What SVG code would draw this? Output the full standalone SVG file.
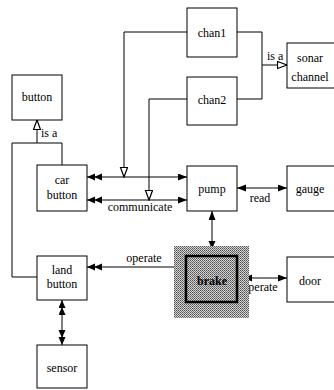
<svg xmlns="http://www.w3.org/2000/svg" width="334" height="390" viewBox="0 0 334 390">
<style>
.box{fill:#fff;stroke:#000;stroke-width:1}
.ln{fill:none;stroke:#000;stroke-width:1}
text{font-family:"Liberation Serif","Times New Roman",serif;font-size:12px;fill:#000;text-anchor:middle}
</style>
<defs>
<marker id="sa" markerUnits="userSpaceOnUse" markerWidth="10" markerHeight="8" refX="9" refY="3.5" orient="auto-start-reverse"><path d="M0,0 L9,3.5 L0,7 z" fill="#000"/></marker>
<marker id="da" markerUnits="userSpaceOnUse" markerWidth="16" markerHeight="8" refX="15" refY="3.5" orient="auto-start-reverse"><path d="M0,0 L8,3.5 L0,7 z M7,0 L15,3.5 L7,7 z" fill="#000"/></marker>
<marker id="op" markerUnits="userSpaceOnUse" markerWidth="11" markerHeight="10" refX="10" refY="4" orient="auto-start-reverse"><path d="M0.5,0.5 L10,4 L0.5,7.5 z" fill="#fff" stroke="#000" stroke-width="1.2"/></marker>
<pattern id="ht" width="2" height="2" patternUnits="userSpaceOnUse"><rect width="2" height="2" fill="#d0d0d0"/><rect width="1" height="1" fill="#555"/><rect x="1" y="1" width="1" height="1" fill="#777"/></pattern>
</defs>
<g id="connectors">
<path class="ln" d="M87,177 H187" marker-start="url(#da)" marker-end="url(#sa)"/>
<path class="ln" d="M87,200 H187" marker-start="url(#da)" marker-end="url(#sa)"/>
<path class="ln" d="M187,32 H124 V177" marker-end="url(#op)"/>
<path class="ln" d="M187,99 H149 V200" marker-end="url(#op)"/>
<path class="ln" d="M237,32 H262 V99 H237"/>
<path class="ln" d="M262,65 H287" marker-end="url(#op)"/>
<path class="ln" d="M62,165 V143 H12 V277 H37"/>
<path class="ln" d="M37,143 V120" marker-end="url(#op)"/>
<path class="ln" d="M62,300 V345" marker-start="url(#da)" marker-end="url(#da)"/>
<path class="ln" d="M237,188 H287" marker-start="url(#sa)" marker-end="url(#sa)"/>
<path class="ln" d="M212,211 V256" marker-start="url(#sa)" marker-end="url(#da)"/>
<path class="ln" d="M87,267 H186" marker-start="url(#da)" marker-end="url(#sa)"/>
<path class="ln" d="M237,278 H287" marker-start="url(#da)" marker-end="url(#sa)"/>
<text x="41" y="137" style="text-anchor:start">is a</text>
<text x="267" y="60" style="text-anchor:start">is a</text>
<text x="260" y="202">read</text>
<text x="140" y="211">communicate</text>
<text x="144" y="262">operate</text>
<text x="260" y="291">operate</text>
</g>
<g id="chan1"><rect class="box" x="187" y="8" width="50" height="49"/><text x="212" y="37">chan1</text></g>
<g id="chan2"><rect class="box" x="187" y="77" width="50" height="48"/><text x="212" y="104">chan2</text></g>
<g id="sonar"><rect class="box" x="287" y="43" width="50" height="45"/><text x="310" y="62">sonar</text><text x="310" y="81">channel</text></g>
<g id="button"><rect class="box" x="12" y="75" width="50" height="45"/><text x="37" y="101">button</text></g>
<g id="carbutton"><rect class="box" x="37" y="165" width="50" height="46"/><text x="62" y="184">car</text><text x="62" y="199">button</text></g>
<g id="landbutton"><rect class="box" x="37" y="256" width="50" height="44"/><text x="62" y="274">land</text><text x="62" y="288">button</text></g>
<g id="sensor"><rect class="box" x="37" y="345" width="50" height="43"/><text x="62" y="372">sensor</text></g>
<g id="pump"><rect class="box" x="187" y="166" width="50" height="45"/><text x="212" y="193">pump</text></g>
<g id="gauge"><rect class="box" x="287" y="166" width="50" height="45"/><text x="310" y="193">gauge</text></g>
<g id="brake"><rect x="174" y="246" width="75" height="72" fill="url(#ht)"/><rect x="186" y="256" width="51" height="46" fill="url(#ht)" stroke="#000" stroke-width="2.5"/><text x="212" y="285" style="font-weight:bold">brake</text></g>
<g id="door"><rect class="box" x="287" y="257" width="50" height="45"/><text x="310" y="285">door</text></g>
</svg>
